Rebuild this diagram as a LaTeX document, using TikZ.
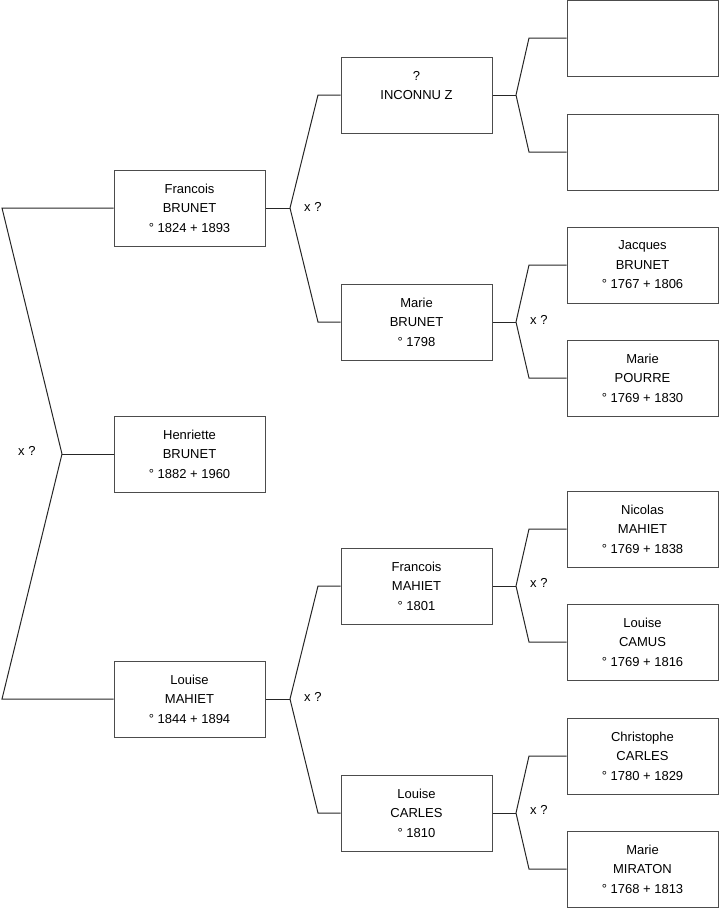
\documentclass[tikz,border=0pt]{standalone}
\usepackage{fontspec}
\setmainfont{Liberation Sans}
\usepackage{tikz}
\usetikzlibrary{positioning}

\begin{document}
\begin{tikzpicture}[x=1pt, y=-1pt,
  person/.style={draw=black!70, line width=1pt, minimum width=151pt, minimum height=76pt, inner sep=0pt,
    align=center, font=\fontsize{13}{19.5}\selectfont},
  link/.style={draw=black!85, line width=1pt},
  union/.style={anchor=west, inner sep=0pt, font=\fontsize{13}{15}\selectfont}
]
\useasboundingbox (0,0) rectangle (719,908);

\node[person] (henriette) at (189.5,454) {Henriette\\BRUNET\\° 1882 + 1960};
\node[person] (francoisB) at (189.5,208) {Francois\\BRUNET\\° 1824 + 1893};
\node[person] (louiseM)   at (189.5,699) {Louise\\MAHIET\\° 1844 + 1894};

\node[person] (inconnu)   at (416.5,95)  {?\\INCONNU Z\\\mbox{}};
\node[person] (marieB)    at (416.5,322) {Marie\\BRUNET\\° 1798};
\node[person] (francoisM) at (416.5,586) {Francois\\MAHIET\\° 1801};
\node[person] (louiseC)   at (416.5,813) {Louise\\CARLES\\° 1810};

\node[person] (empty1)     at (642.5,38)  {};
\node[person] (empty2)     at (642.5,152) {};
\node[person] (jacques)    at (642.5,265) {Jacques\\BRUNET\\° 1767 + 1806};
\node[person] (marieP)     at (642.5,378) {Marie\\POURRE\\° 1769 + 1830};
\node[person] (nicolas)    at (642.5,529) {Nicolas\\MAHIET\\° 1769 + 1838};
\node[person] (louiseCa)   at (642.5,642) {Louise\\CAMUS\\° 1769 + 1816};
\node[person] (christophe) at (642.5,756) {Christophe\\CARLES\\° 1780 + 1829};
\node[person] (marieMi)    at (642.5,869) {Marie\\MIRATON\\° 1768 + 1813};

\coordinate (k0) at (62,454);   \coordinate (k0a) at (2,208);   \coordinate (k0b) at (2,699);
\coordinate (k1) at (290,208);  \coordinate (k1a) at (318,95);  \coordinate (k1b) at (318,322);
\coordinate (k2) at (290,699);  \coordinate (k2a) at (318,586); \coordinate (k2b) at (318,813);
\coordinate (k3) at (516,95);   \coordinate (k3a) at (529,38);  \coordinate (k3b) at (529,152);
\coordinate (k4) at (516,322);  \coordinate (k4a) at (529,265); \coordinate (k4b) at (529,378);
\coordinate (k5) at (516,586);  \coordinate (k5a) at (529,529); \coordinate (k5b) at (529,642);
\coordinate (k6) at (516,813);  \coordinate (k6a) at (529,756); \coordinate (k6b) at (529,869);

\draw[link] (henriette.west) -- (k0); \draw[link] (k0) -- (k0a) -- (francoisB.west); \draw[link] (k0) -- (k0b) -- (louiseM.west);
\draw[link] (francoisB.east) -- (k1); \draw[link] (k1) -- (k1a) -- (inconnu.west); \draw[link] (k1) -- (k1b) -- (marieB.west);
\draw[link] (louiseM.east) -- (k2); \draw[link] (k2) -- (k2a) -- (francoisM.west); \draw[link] (k2) -- (k2b) -- (louiseC.west);
\draw[link] (inconnu.east) -- (k3); \draw[link] (k3) -- (k3a) -- (empty1.west); \draw[link] (k3) -- (k3b) -- (empty2.west);
\draw[link] (marieB.east) -- (k4); \draw[link] (k4) -- (k4a) -- (jacques.west); \draw[link] (k4) -- (k4b) -- (marieP.west);
\draw[link] (francoisM.east) -- (k5); \draw[link] (k5) -- (k5a) -- (nicolas.west); \draw[link] (k5) -- (k5b) -- (louiseCa.west);
\draw[link] (louiseC.east) -- (k6); \draw[link] (k6) -- (k6a) -- (christophe.west); \draw[link] (k6) -- (k6b) -- (marieMi.west);

\node[union] (u0) at (18,451)  {x ?};
\node[union] (u1) at (304,207) {x ?};
\node[union] (u2) at (304,697) {x ?};
\node[union] (u4) at (530,320) {x ?};
\node[union] (u5) at (530,583) {x ?};
\node[union] (u6) at (530,810) {x ?};
\end{tikzpicture}
\end{document}
